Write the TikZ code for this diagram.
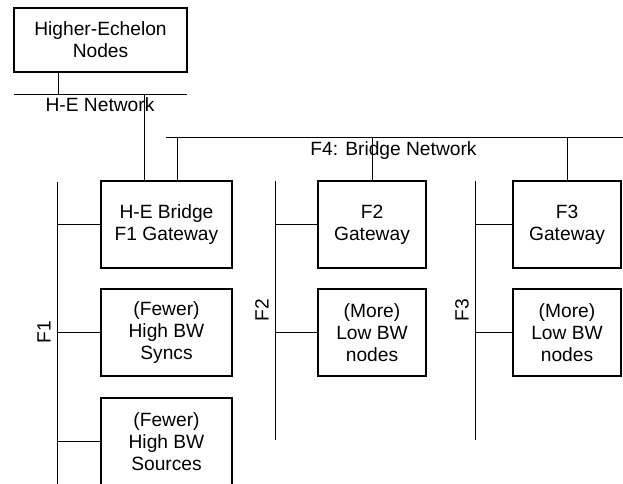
\documentclass[tikz,border=0pt]{standalone}
\usepackage{fontspec}
\setmainfont{Liberation Sans}
\begin{document}
\begin{tikzpicture}[x=1pt,y=-1pt,
  box/.style={draw, line width=1.1pt, inner sep=0pt, align=center,
    font=\fontsize{19.2}{22}\selectfont},
  wire/.style={line width=0.8pt},
  lbl/.style={inner sep=0pt, font=\fontsize{19.2}{22}\selectfont}]
\useasboundingbox (0,0) rectangle (623,483);

% nodes
\node[box, minimum width=173, minimum height=64] (he) at (100.5,40) {Higher-Echelon\\Nodes};
\node[box, minimum width=131, minimum height=87] (f1gw) at (166.5,224.5) {H-E Bridge\\F1 Gateway};
\node[box, minimum width=131, minimum height=87] (f1sync) at (166.5,332.5) {(Fewer)\\High BW\\Syncs};
\node[box, minimum width=131, minimum height=87] (f1src) at (166.5,441.5) {(Fewer)\\High BW\\Sources};
\node[box, minimum width=108, minimum height=87] (f2gw) at (372,224.5) {F2\\Gateway};
\node[box, minimum width=108, minimum height=87] (f2low) at (372,332.5) {(More)\\Low BW\\nodes};
\node[box, minimum width=108, minimum height=87] (f3gw) at (567,224.5) {F3\\Gateway};
\node[box, minimum width=108, minimum height=87] (f3low) at (567,332.5) {(More)\\Low BW\\nodes};

% H-E network
\coordinate (heL) at (14,94);
\coordinate (heR) at (187,94);
\coordinate (heTap) at (58,94);
\coordinate (heDrop) at (144,94);
\draw[wire] (heL) -- (heR);
\draw[wire] (he.south -| heTap) -- (heTap);
\draw[wire] (heDrop) -- (heDrop |- f1gw.north);
\node[lbl, anchor=base] (henet) at (100,111) {H-E Network};

% F4 bridge network
\coordinate (bnL) at (166,137);
\coordinate (bnR) at (623,137);
\coordinate (bnA) at (177,137);
\coordinate (bnB) at (372,137);
\coordinate (bnC) at (567,137);
\draw[wire] (bnL) -- (bnR);
\draw[wire] (bnA) -- (bnA |- f1gw.north);
\draw[wire] (bnB) -- (f2gw.north);
\draw[wire] (bnC) -- (f3gw.north);
\node[lbl, anchor=base] (f4net) at (393.5,155) {F4: Bridge Network};

% F1 bus
\coordinate (f1top) at (57,182);
\coordinate (f1bot) at (57,490);
\draw[wire] (f1top) -- (f1bot);
\draw[wire] (f1gw.west) -- (f1gw.west -| f1top);
\draw[wire] (f1sync.west) -- (f1sync.west -| f1top);
\draw[wire] (f1src.west) -- (f1src.west -| f1top);
\node[lbl, rotate=90] (f1lbl) at (44,332) {F1};

% F2 bus
\coordinate (f2top) at (275,181);
\coordinate (f2bot) at (275,440);
\draw[wire] (f2top) -- (f2bot);
\draw[wire] (f2gw.west) -- (f2gw.west -| f2top);
\draw[wire] (f2low.west) -- (f2low.west -| f2top);
\node[lbl, rotate=90] (f2lbl) at (262,310) {F2};

% F3 bus
\coordinate (f3top) at (475,181);
\coordinate (f3bot) at (475,440);
\draw[wire] (f3top) -- (f3bot);
\draw[wire] (f3gw.west) -- (f3gw.west -| f3top);
\draw[wire] (f3low.west) -- (f3low.west -| f3top);
\node[lbl, rotate=90] (f3lbl) at (462,310) {F3};
\end{tikzpicture}
\end{document}
